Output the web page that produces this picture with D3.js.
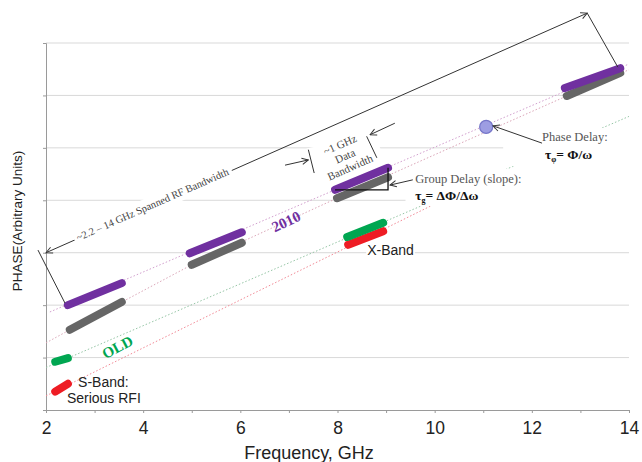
<!DOCTYPE html>
<html>
<head>
<meta charset="utf-8">
<script src="https://cdn.jsdelivr.net/npm/d3@7"></script>
<style>
  body { margin: 0; background: #fff; }
</style>
</head>
<body>
<script>
// ── Values (frequency in GHz, phase in arbitrary units) ──
const xTicks    = [2, 4, 6, 8, 10, 12, 14];
const xMinor    = [3, 5, 7, 9, 11, 13];
const phaseGrid = [0, 1, 2, 3, 4, 5, 6, 7];

// bar segments: [f0, phase0, f1, phase1]
const grayBars   = [[2.49, 1.53, 3.56, 2.06], [5.00, 2.77, 6.03, 3.19], [7.99, 4.04, 9.04, 4.44], [12.72, 5.99, 13.82, 6.43]];
const purpleBars = [[2.45, 2.00, 3.56, 2.42], [4.96, 2.99, 6.03, 3.39], [7.95, 4.20, 9.04, 4.62], [12.68, 6.14, 13.82, 6.52]];
const redBars    = [[2.19, 0.35, 2.45, 0.50], [8.22, 3.15, 8.94, 3.41]];
const greenBars  = [[2.19, 0.92, 2.45, 0.99], [8.20, 3.30, 8.94, 3.57]];

// dotted phase trends through each set of bars
const purpleTrend = [[2.08, 1.87], [14.0, 6.60]];
const grayTrend   = [[2.00, 1.28], [2.49, 1.53], [5.00, 2.77], [7.99, 4.04], [12.72, 5.99], [14.0, 6.49]];
const greenTrend  = [[2.00, 0.81], [14.0, 5.60]];
const redTrend    = [[2.00, 0.27], [10.2, 4.02]];

// phase-delay point
const phasePoint = [11.06, 5.40];

// annotation anchors (data coordinates)
const spanArrow    = [[2.0, 3.0], [13.14, 7.57]];
const spanEnds     = [[[1.835, 3.05], [2.39, 2.04]], [[13.14, 7.57], [13.77, 6.54]]];
const spanLabelAt  = [4.19, 3.92];
const bwCenter     = [8.155, 4.845];
const bwBrackets   = [[[7.40, 4.965], [7.52, 4.52]], [[8.60, 5.22], [8.81, 4.81]]];
const bwArrows     = [[[6.92, 4.67], [7.40, 4.77]], [[9.18, 5.47], [8.67, 5.25]]];
const bwBox        = [[7.36, 4.99], [8.78, 5.26], [8.95, 4.80], [7.50, 4.48]];
const groupArrow   = [[9.55, 4.39], [9.08, 4.29]];
const groupLabelAt = [9.60, 4.33];
const groupFormAt  = [9.60, 4.00];
const groupBox     = [[9.40, 4.60], [14.4, 3.89]];
const phaseArrow   = [[12.21, 5.09], [11.20, 5.42]];
const phaseLabelAt = [12.21, 5.13];
const phaseFormAt  = [12.27, 4.79];
const phaseBox     = [[11.41, 5.38], [14.4, 4.65]];

const COLORS = { purple: "#7030a0", gray: "#666666", green: "#00a651", red: "#ee1c24" };

// ── Scales ────────────────────────────────────────────────────────────────────
const W = 642, H = 462;
const x = d3.scaleLinear().domain([2, 14]).range([46, 629]);
const y = d3.scaleLinear().domain([0, 7]).range([410, 43]);
const P = d => [x(d[0]), y(d[1])];

const SERIF = "'Liberation Serif', 'Times New Roman', serif";
const SANS  = "'Liberation Sans', Arial, sans-serif";

const svg = d3.select("body").append("svg")
  .attr("width", W).attr("height", H)
  .style("font-family", SANS);

svg.append("defs").append("marker")
  .attr("id", "arr").attr("viewBox", "0 0 10 10")
  .attr("refX", 9).attr("refY", 5)
  .attr("markerWidth", 8).attr("markerHeight", 8)
  .attr("markerUnits", "userSpaceOnUse")
  .attr("orient", "auto-start-reverse")
  .append("path").attr("d", "M1,1 L9,5 L1,9")
  .attr("fill", "none").attr("stroke", "#333").attr("stroke-width", 1.2);

// ── Grid + axes ───────────────────────────────────────────────────────────────
svg.append("g").selectAll("line").data(phaseGrid.slice(1)).join("line")
  .attr("x1", x(2)).attr("x2", x(14))
  .attr("y1", d => y(d)).attr("y2", d => y(d))
  .attr("stroke", "#d9d9d9");

const xAxis = svg.append("g")
  .attr("transform", `translate(0,${y(0)})`)
  .call(d3.axisBottom(x).tickValues([...xTicks, ...xMinor]).tickSize(3).tickPadding(9)
    .tickFormat(d => xTicks.includes(d) ? d : ""));
xAxis.selectAll("text").style("font-family", SANS).style("font-size", "17.5px").attr("fill", "#222");

const yAxis = svg.append("g")
  .attr("transform", `translate(${x(2)},0)`)
  .call(d3.axisLeft(y).tickValues(phaseGrid).tickSize(3).tickFormat(""));

[xAxis, yAxis].forEach(a => {
  a.select(".domain").attr("stroke", "#9a9a9a");
  a.selectAll(".tick line").attr("stroke", "#9a9a9a");
});

svg.append("text")
  .attr("x", 309).attr("y", 459)
  .attr("text-anchor", "middle")
  .style("font-size", "18px").attr("fill", "#222")
  .text("Frequency, GHz");

svg.append("text")
  .attr("transform", "translate(22,221) rotate(-90)")
  .attr("text-anchor", "middle")
  .style("font-size", "13.5px").attr("fill", "#222")
  .text("PHASE(Arbitrary Units)");

// ── Dotted trends ─────────────────────────────────────────────────────────────
const line = d3.line().x(d => x(d[0])).y(d => y(d[1]));
[[purpleTrend, "#d29fce"], [grayTrend, "#dba6b8"], [greenTrend, "#96c6a6"], [redTrend, "#f28a96"]]
  .forEach(([pts, c]) => {
    svg.append("path").attr("d", line(pts))
      .attr("fill", "none").attr("stroke", c)
      .attr("stroke-width", 1).attr("stroke-dasharray", "1.5,2");
  });

// ── White label boxes (they hide grid / trends behind the labels) ─────────────
svg.append("polygon")
  .attr("points", bwBox.map(P).map(p => p.join(",")).join(" "))
  .attr("fill", "#fff");
[groupBox, phaseBox].forEach(b => {
  svg.append("rect")
    .attr("x", x(b[0][0])).attr("y", y(b[0][1]))
    .attr("width", x(b[1][0]) - x(b[0][0]))
    .attr("height", y(b[1][1]) - y(b[0][1]))
    .attr("fill", "#fff");
});

// ── Bars ──────────────────────────────────────────────────────────────────────
function drawBars(data, color) {
  svg.append("g").selectAll("line").data(data).join("line")
    .attr("x1", d => x(d[0])).attr("y1", d => y(d[1]))
    .attr("x2", d => x(d[2])).attr("y2", d => y(d[3]))
    .attr("stroke", color).attr("stroke-width", 8)
    .attr("stroke-linecap", "round");
}
drawBars(grayBars, COLORS.gray);
drawBars(purpleBars, COLORS.purple);
drawBars(redBars, COLORS.red);
drawBars(greenBars, COLORS.green);

// phase-delay point
svg.append("circle")
  .attr("cx", x(phasePoint[0])).attr("cy", y(phasePoint[1])).attr("r", 6.5)
  .attr("fill", "#9d9de2").attr("stroke", "#7575c8").attr("stroke-width", 1.2);

// ── Annotation lines ──────────────────────────────────────────────────────────
function seg(pts, arrowEnd, arrowStart) {
  const [a, b] = pts.map(P);
  const l = svg.append("line")
    .attr("x1", a[0]).attr("y1", a[1]).attr("x2", b[0]).attr("y2", b[1])
    .attr("stroke", "#333").attr("stroke-width", 1);
  if (arrowEnd) l.attr("marker-end", "url(#arr)");
  if (arrowStart) l.attr("marker-start", "url(#arr)");
  return l;
}

// spanned RF bandwidth dimension line
seg(spanArrow, true, true);
spanEnds.forEach(s => seg(s));
const [sa, sb] = spanArrow.map(P);
const spanAngle = Math.atan2(sb[1] - sa[1], sb[0] - sa[0]) * 180 / Math.PI;

function rotatedLabel(at, angle, lines, opts) {
  const g = svg.append("g")
    .attr("transform", `translate(${x(at[0])},${y(at[1])}) rotate(${angle})`);
  const bg = g.append("rect").attr("fill", "#fff");
  const t = g.append("text")
    .attr("text-anchor", "middle")
    .style("font-family", opts.family).style("font-size", opts.size + "px")
    .style("font-weight", opts.weight || "normal")
    .attr("fill", opts.color);
  const n = lines.length;
  lines.forEach((s, i) => {
    t.append("tspan").attr("x", 0)
      .attr("y", (i - (n - 1) / 2) * opts.lh + opts.size * 0.35)
      .text(s);
  });
  if (opts.box) {
    const bb = t.node().getBBox();
    bg.attr("x", bb.x - opts.box).attr("y", bb.y - opts.box)
      .attr("width", bb.width + 2 * opts.box).attr("height", bb.height + 2 * opts.box);
  }
  return g;
}

rotatedLabel(spanLabelAt, spanAngle, ["~2.2 \u2013 14 GHz Spanned RF Bandwidth"],
  { family: SERIF, size: 10.5, lh: 0, color: "#444", box: 3 });

// ~1 GHz data bandwidth bracket
bwBrackets.forEach(b => seg(b));
bwArrows.forEach(a => seg(a, true));
rotatedLabel(bwCenter, -24, ["~1 GHz", "Data", "Bandwidth"],
  { family: SERIF, size: 11, lh: 12.5, color: "#444" });

// group delay slope triangle on the 8–9 GHz purple bar
const gd = purpleBars[2];
svg.append("path")
  .attr("d", `M${x(gd[0])},${y(gd[1])} L${x(gd[2])},${y(gd[1])} L${x(gd[2])},${y(gd[3])}`)
  .attr("fill", "none").attr("stroke", "#111").attr("stroke-width", 1.3);
seg(groupArrow, true);
seg(phaseArrow, true);

// ── Text labels ───────────────────────────────────────────────────────────────
function text(at, str, size, opts = {}) {
  return svg.append("text")
    .attr("x", x(at[0])).attr("y", y(at[1]))
    .style("font-family", opts.family || SANS)
    .style("font-size", size + "px")
    .style("font-weight", opts.weight || "normal")
    .attr("fill", opts.color || "#222")
    .text(str);
}

function formula(at, sub, rest) {
  const t = text(at, "\u03c4", 13.5, { family: SERIF, weight: "bold", color: "#111" });
  t.append("tspan").attr("dy", 3).style("font-size", "8px").text(sub);
  t.append("tspan").attr("dy", -3).text("= " + rest);
}

text(groupLabelAt, "Group Delay (slope):", 12.5, { family: SERIF, color: "#555" });
formula(groupFormAt, "g", "\u0394\u03a6/\u0394\u03c9");
text(phaseLabelAt, "Phase Delay:", 12.5, { family: SERIF, color: "#555" });
formula(phaseFormAt, "\u03c6", "\u03a6/\u03c9");

rotatedLabel([6.94, 3.595], -25, ["2010"],
  { family: SERIF, size: 15, lh: 0, weight: "bold", color: COLORS.purple });
rotatedLabel([3.47, 1.20], -28, ["OLD"],
  { family: SERIF, size: 15, lh: 0, weight: "bold", color: COLORS.green });

text([2.66, 0.44], "S-Band:", 14);
text([2.43, 0.13], "Serious RFI", 14);

const xb = text([8.61, 2.955], "X-Band", 14);
const xbb = xb.node().getBBox();
svg.insert("rect", () => xb.node())
  .attr("x", xbb.x - 1).attr("y", xbb.y).attr("width", xbb.width + 2).attr("height", xbb.height)
  .attr("fill", "#fff");
</script>
</body>
</html>
